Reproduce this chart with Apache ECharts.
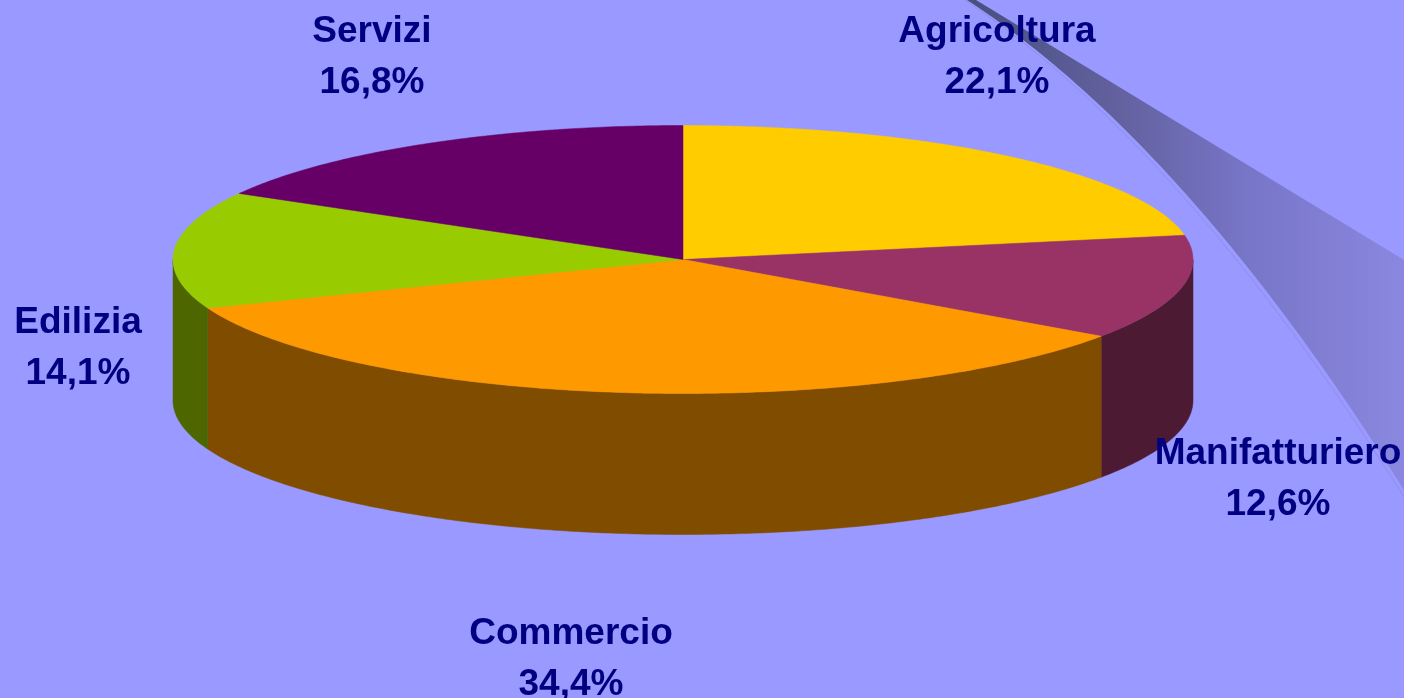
<!DOCTYPE html>
<html><head><meta charset="utf-8">
<style>html,body{margin:0;padding:0;background:#9999ff}#c{width:1404px;height:698px}</style>
<script src="https://cdn.jsdelivr.net/npm/echarts@6/dist/echarts.min.js"></script>
</head><body><div id="c"></div>
<script>
const categories = ['Agricoltura','Manifatturiero','Commercio','Edilizia','Servizi'];
const shares = [22.1,12.6,34.4,14.1,16.8];
const topColors = ['#ffcc00','#993366','#ff9900','#99cc00','#660066'];
const sideColors = ['#806600','#4d1a33','#804c00','#4d6600','#330033'];
const labelCenters = [[997,57],[1278,479],[571,659],[78,348],[372,57]];

const CX=683, CY=259.5, RX=510, RY=134, DEPTH=141;
const total = shares.reduce((a,b)=>a+b,0);
const cum=[0]; shares.forEach((v,i)=>cum.push(cum[i]+v));
const ang=v=>v/total*Math.PI*2;
const pt=(a,dy)=>[CX+RX*Math.sin(a),CY-RY*Math.cos(a)+(dy||0)];
function arc(a0,a1,dy){const n=Math.max(2,Math.ceil((a1-a0)/0.01)),p=[];for(let i=0;i<=n;i++)p.push(pt(a0+(a1-a0)*i/n,dy));return p;}

function quad(p0,c,p1,n){const out=[];for(let i=0;i<=n;i++){const t=i/n,u=1-t;out.push([u*u*p0[0]+2*u*t*c[0]+t*t*p1[0],u*u*p0[1]+2*u*t*c[1]+t*t*p1[1]]);}return out;}
const swooshUpper=[[976,0],[1404,260]];
const swooshLower=quad([967,0],[1185.5,142],[1404,490],80);
const swooshLine=quad([965,0],[1183,146],[1404,497],80);

const fmt=v=>v.toFixed(1).replace('.',',')+'%';
const chart=echarts.init(document.getElementById('c'),null,{renderer:'canvas'});
chart.setOption({
 backgroundColor:'#9999ff',animation:false,
 graphic:[
  {type:'polygon',z:0,silent:true,shape:{points:swooshUpper.concat(swooshLower.slice().reverse())},
   style:{fill:new echarts.graphic.LinearGradient(0,0,1,0,[{offset:0,color:'#474f7f'},{offset:0.35,color:'#63619f'},{offset:0.65,color:'#7876c8'},{offset:1,color:'#8a87e0'}])}},
  {type:'polyline',z:0,silent:true,shape:{points:swooshLine},style:{stroke:'#8e8eec',lineWidth:1,fill:null}}
 ],
 series:[
  {type:'custom',coordinateSystem:'none',z:2,silent:true,clip:false,data:shares.map((v,i)=>[i,v]),
   renderItem(p,api){const i=api.value(0);
    const a0=Math.max(ang(cum[i]),Math.PI/2),a1=Math.min(ang(cum[i+1]),Math.PI*1.5);
    if(a1<=a0)return {type:'group',children:[]};
    const pts=arc(a0,a1,0).concat(arc(a0,a1,DEPTH).reverse());
    return {type:'polygon',shape:{points:pts},style:{fill:sideColors[i],stroke:sideColors[i],lineWidth:0.5}};}},
  {type:'custom',coordinateSystem:'none',z:3,silent:true,clip:false,data:shares.map((v,i)=>[i,v]),
   renderItem(p,api){const i=api.value(0);
    const pts=[[CX,CY]].concat(arc(ang(cum[i]),ang(cum[i+1]),0));
    return {type:'polygon',shape:{points:pts},style:{fill:topColors[i],stroke:topColors[i],lineWidth:0.5}};}},
  {type:'custom',coordinateSystem:'none',z:4,silent:true,clip:false,data:shares.map((v,i)=>[i,v]),
   renderItem(p,api){const i=api.value(0);
    return {type:'text',style:{text:categories[i]+'\n'+fmt(api.value(1)),x:labelCenters[i][0],y:labelCenters[i][1],align:'center',verticalAlign:'middle',
     fontFamily:'"Liberation Sans",Arial,sans-serif',fontWeight:'bold',fontSize:37,lineHeight:51,fill:'#000080'}};}}
 ]
});
</script></body></html>
